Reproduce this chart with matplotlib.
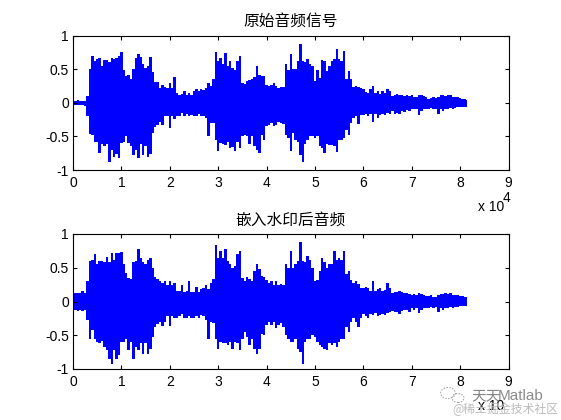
import matplotlib

matplotlib.use("Agg")
import matplotlib.pyplot as plt
import numpy as np
from matplotlib.patches import Circle

plt.rcParams["font.family"] = ["Liberation Sans", "Noto Sans CJK SC", "DejaVu Sans"]
plt.rcParams["axes.unicode_minus"] = False

# peak envelope of each signal, one value every 500 samples, one row per 10^4 samples
orig_upper = [
    .03, .03, .04, .03, .03, .03, .10, .50, .70, .62, .65, .66, .55, .63, .64, .60, .67, .65, .66, .70,
    .76, .48, .40, .42, .36, .50, .67, .72, .68, .58, .52, .55, .68, .45, .31, .31, .22, .26, .24, .22,
    .30, .22, .38, .14, .12, .13, .17, .12, .14, .12, .18, .20, .17, .20, .19, .22, .30, .25, .36, .76,
    .62, .66, .58, .74, .55, .62, .52, .48, .62, .70, .30, .28, .33, .34, .35, .38, .54, .42, .40, .40,
    .26, .25, .26, .30, .25, .22, .24, .23, .58, .48, .73, .50, .50, .62, .88, .62, .60, .65, .58, .55,
    .32, .48, .37, .64, .62, .47, .55, .62, .65, .80, .65, .62, .77, .35, .47, .36, .24, .25, .24, .22,
    .20, .16, .14, .20, .25, .15, .17, .13, .18, .15, .20, .18, .10, .12, .13, .11, .12, .10, .11, .10,
    .11, .08, .09, .12, .11, .10, .08, .06, .07, .08, .07, .09, .11, .11, .10, .11, .12, .09, .08, .09,
    .07, .06, .05, .04,
]
orig_lower = [
    -.03, -.03, -.04, -.03, -.03, -.05, -.20, -.47, -.48, -.58, -.58, -.75, -.62, -.65, -.62, -.88, -.70, -.80, -.76, -.82,
    -.60, -.58, -.50, -.60, -.65, -.78, -.70, -.82, -.62, -.78, -.65, -.80, -.76, -.45, -.36, -.33, -.28, -.33, -.20, -.20,
    -.38, -.20, -.24, -.20, -.20, -.15, -.20, -.16, -.20, -.18, -.20, -.19, -.17, -.20, -.20, -.22, -.50, -.30, -.30, -.55,
    -.72, -.60, -.62, -.63, -.58, -.68, -.66, -.72, -.58, -.68, -.50, -.48, -.50, -.62, -.50, -.65, -.70, -.74, -.48, -.55,
    -.35, -.33, -.30, -.35, -.33, -.28, -.30, -.32, -.48, -.52, -.72, -.45, -.55, -.58, -.78, -.88, -.62, -.55, -.50, -.50,
    -.52, -.50, -.65, -.68, -.75, -.62, -.63, -.63, -.65, -.73, -.55, -.56, -.52, -.40, -.48, -.30, -.22, -.20, -.32, -.18,
    -.18, -.16, -.20, -.17, -.28, -.16, -.22, -.18, -.17, -.18, -.15, -.17, -.13, -.16, -.15, -.17, -.12, -.14, -.11, -.13,
    -.10, -.10, -.09, -.18, -.12, -.10, -.09, -.09, -.08, -.10, -.09, -.16, -.10, -.12, -.09, -.10, -.08, -.10, -.08, -.07,
    -.07, -.06, -.06, -.06,
]
marked_upper = [
    .12, .12, .13, .12, .15, .13, .30, .60, .62, .70, .55, .60, .60, .58, .66, .58, .72, .62, .72, .72,
    .73, .55, .42, .35, .33, .58, .60, .78, .65, .58, .55, .62, .65, .50, .36, .34, .30, .28, .30, .25,
    .30, .25, .28, .15, .15, .25, .14, .15, .30, .14, .14, .22, .14, .18, .20, .25, .18, .28, .34, .84,
    .65, .75, .65, .78, .60, .55, .50, .52, .70, .75, .35, .30, .36, .33, .30, .45, .55, .48, .38, .37,
    .32, .28, .30, .25, .30, .25, .26, .25, .55, .50, .75, .50, .55, .60, .88, .60, .58, .68, .62, .50,
    .30, .32, .45, .65, .58, .50, .55, .55, .75, .62, .65, .62, .75, .40, .45, .32, .28, .30, .26, .20,
    .20, .22, .20, .16, .30, .16, .18, .20, .16, .17, .28, .20, .12, .14, .14, .15, .14, .12, .13, .11,
    .10, .11, .10, .12, .11, .10, .08, .08, .09, .07, .07, .09, .11, .11, .12, .11, .12, .10, .09, .09,
    .08, .08, .07, .06,
]
marked_lower = [
    -.14, -.12, -.14, -.13, -.14, -.13, -.28, -.55, -.42, -.55, -.60, -.62, -.58, -.68, -.72, -.85, -.93, -.72, -.85, -.80,
    -.60, -.60, -.55, -.72, -.60, -.85, -.68, -.72, -.62, -.78, -.62, -.78, -.70, -.52, -.38, -.33, -.30, -.36, -.30, -.22,
    -.36, -.22, -.25, -.25, -.22, -.18, -.24, -.25, -.22, -.25, -.24, -.22, -.25, -.20, -.22, -.28, -.55, -.30, -.32, -.55,
    -.70, -.60, -.62, -.62, -.65, -.60, -.70, -.60, -.62, -.72, -.55, -.45, -.52, -.65, -.55, -.70, -.78, -.70, -.48, -.50,
    -.35, -.30, -.35, -.30, -.40, -.35, -.32, -.38, -.50, -.55, -.60, -.60, -.55, -.70, -.75, -.92, -.60, -.55, -.55, -.50,
    -.52, -.60, -.65, -.68, -.70, -.72, -.62, -.65, -.62, -.68, -.60, -.55, -.55, -.38, -.45, -.30, -.25, -.30, -.38, -.25,
    -.18, -.22, -.25, -.18, -.20, -.17, -.22, -.20, -.18, -.20, -.17, -.16, -.14, -.15, -.15, -.18, -.14, -.13, -.13, -.15,
    -.10, -.12, -.10, -.17, -.12, -.10, -.10, -.09, -.08, -.10, -.08, -.16, -.10, -.12, -.10, -.10, -.08, -.09, -.08, -.08,
    -.07, -.07, -.06, -.06,
]
sample_step = 500
x_ticks = [0, 1, 2, 3, 4, 5, 6, 7, 8, 9]
y_ticks = [-1, -0.5, 0, 0.5, 1]
y_tick_labels = ["-1", "-0.5", "0", "0.5", "1"]
titles = ["原始音频信号", "嵌入水印后音频"]

W, H = 561, 420
FONT_PT = 10


def axes_rect(left, top, right, bottom):
    return [left / W, 1 - bottom / H, (right - left) / W, (bottom - top) / H]


def draw_signal(ax, upper, lower, title):
    samples = np.arange(len(upper)) * sample_step
    # one stepped polygon, so the dense signal renders solid without stroke gaps
    ax.fill_between(samples, lower, upper, step="mid", color="#0000ff", linewidth=0)
    ax.set_xlim(0, 90000)
    ax.set_ylim(-1, 1)
    ax.set_xticks([t * 10000 for t in x_ticks], [str(t) for t in x_ticks])
    ax.set_yticks(y_ticks, y_tick_labels)
    ax.tick_params(direction="in", top=True, right=True, length=3, width=0.8,
                   labelsize=FONT_PT, pad=3)
    ax.tick_params(axis="x", pad=4.5)
    for spine in ax.spines.values():
        spine.set_linewidth(0.8)
    ax.set_title(title, fontsize=11.3, pad=7, family=["Noto Sans CJK SC", "DejaVu Sans"])


fig = plt.figure(figsize=(W / 100, H / 100), dpi=100, facecolor="white")
ax_top = fig.add_axes(axes_rect(73, 35.5, 508.5, 170))
ax_bottom = fig.add_axes(axes_rect(73, 234, 508.5, 369))
draw_signal(ax_top, orig_upper, orig_lower, titles[0])
draw_signal(ax_bottom, marked_upper, marked_lower, titles[1])

# offset labels
fig.text(478 / W, 1 - 211 / H, "x 10", fontsize=FONT_PT, va="baseline")
fig.text(503 / W, 1 - 202 / H, "4", fontsize=FONT_PT, va="baseline")
fig.text(478 / W, 1 - 410 / H, "x 10", fontsize=FONT_PT, va="baseline")

# site watermark, bottom right
cjk = ["Noto Sans CJK SC", "DejaVu Sans"]
fig.text(471 / W, 1 - 400 / H, "天天", fontsize=10.5, color="#666666", alpha=0.8,
         family=cjk, va="baseline")
fig.text(498 / W, 1 - 400 / H, "Matlab", fontsize=11, color="#777777", alpha=0.85,
         va="baseline")
fig.text(452 / W, 1 - 413 / H, "@稀土掘金技术社区", fontsize=8.6, color="#bbbbbb",
         family=cjk, va="baseline")
for cx, cy, r in [(448, 393, 5.5), (458, 398, 4.5)]:
    fig.add_artist(Circle((cx / W, 1 - cy / H), r / H, transform=fig.transFigure,
                          fill=False, edgecolor="#999999", linewidth=0.7,
                          linestyle=(0, (1.5, 1.5))))

fig.savefig("out.png", dpi=100, facecolor="white")
